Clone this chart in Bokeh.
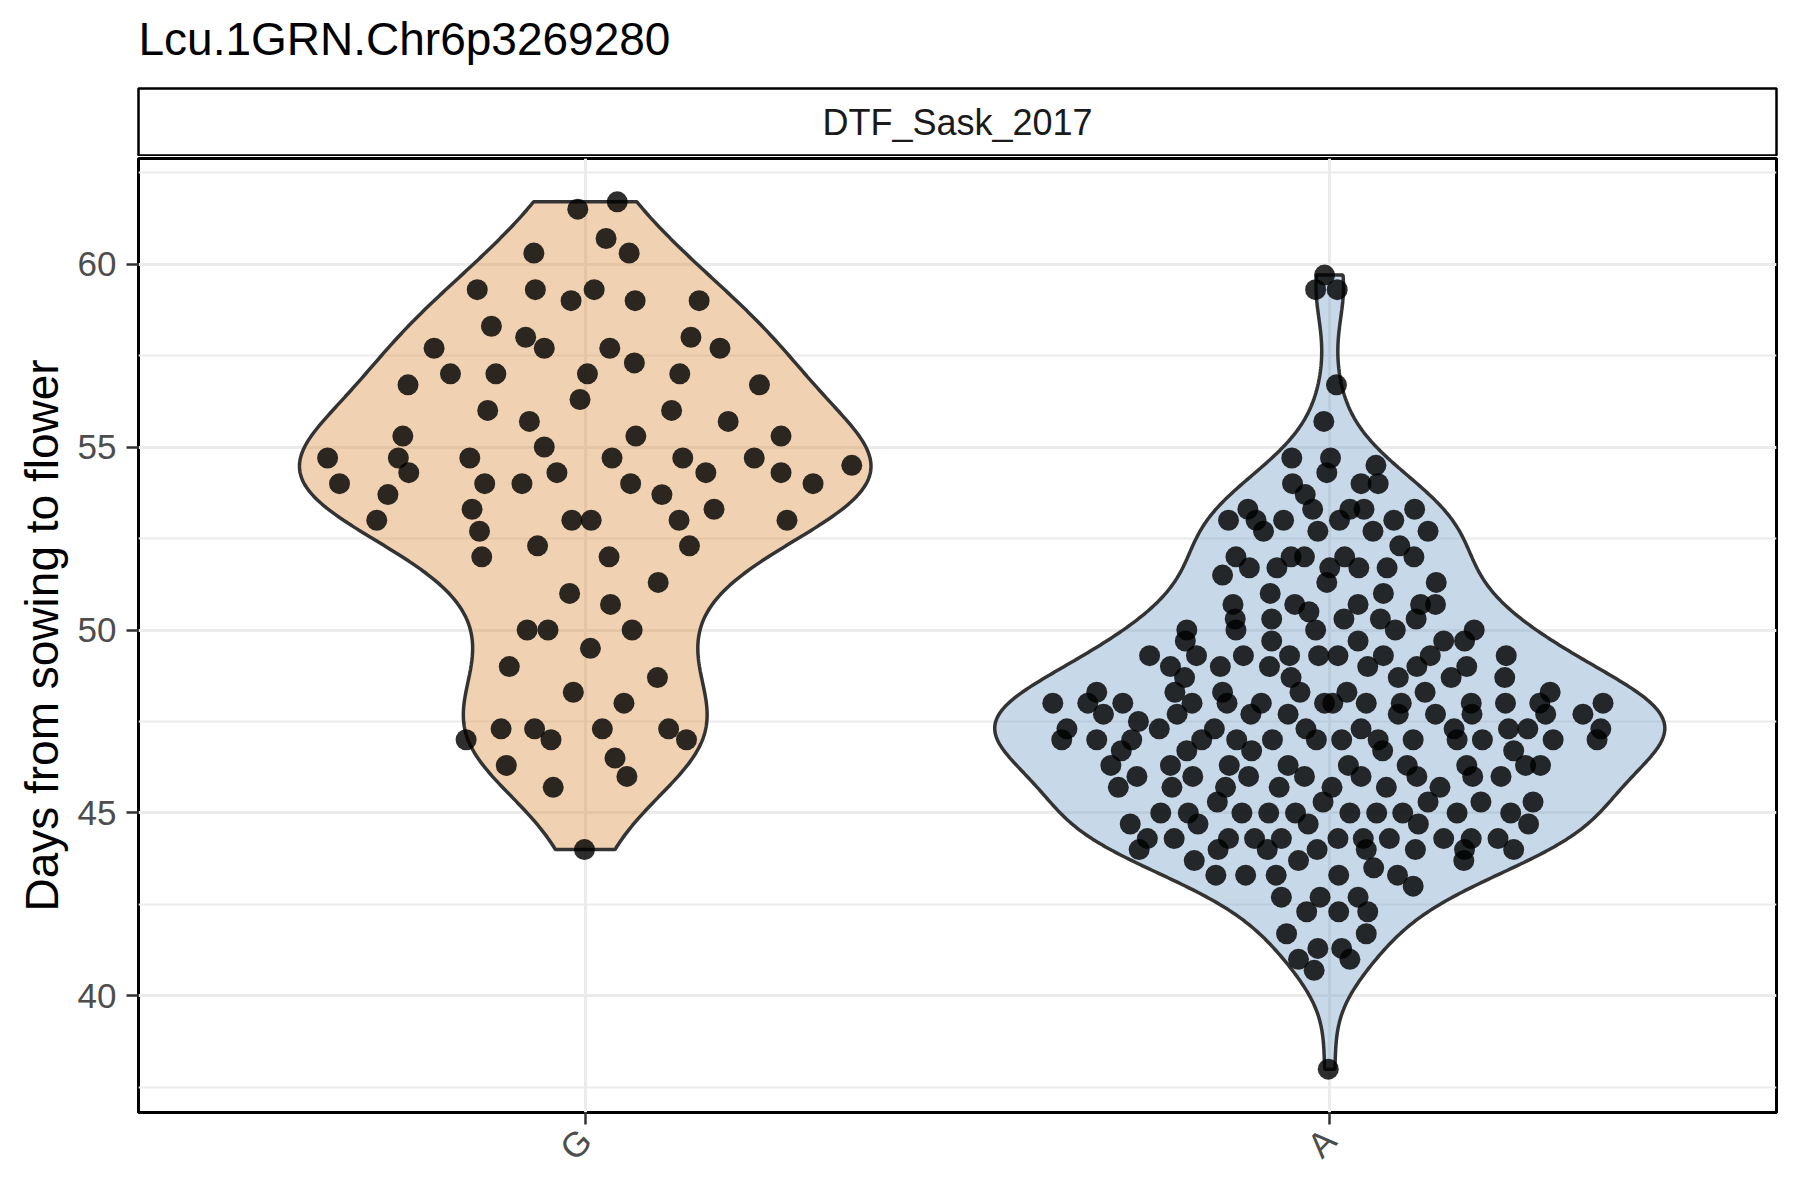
import numpy as np
from math import pi
from bokeh.plotting import figure
from bokeh.models import Range1d, FixedTicker, Label, Title
from bokeh.layouts import column
from bokeh.embed import file_html
from bokeh.resources import INLINE

# ---------------- data ----------------
title_text = "Lcu.1GRN.Chr6p3269280"
facet_label = "DTF_Sask_2017"
y_label = "Days from sowing to flower"
categories = ["G", "A"]
fill_colors = ["#DA8C3F", "#739EC6"]
y_ticks = [40, 45, 50, 55, 60]
y_minor_ticks = [37.5, 42.5, 47.5, 52.5, 57.5, 62.5]

g_vals = [61.5, 61.7, 60.7, 60.3, 60.3,
          59.3, 59.3, 59.3, 59.0, 59.0, 59.0,
          58.3, 58.0, 57.7, 57.7, 57.7, 57.3, 58.0, 57.7,
          56.7, 57.0, 57.0, 57.0, 56.3, 57.0, 56.7,
          56.0, 55.7, 56.0, 55.7,
          55.3, 55.3, 55.3, 55.0,
          54.7, 54.7, 54.7, 54.7, 54.7, 54.7, 54.5,
          54.3, 54.3, 54.3, 54.3,
          54.0, 54.0, 54.0, 54.0, 54.0,
          53.7, 53.7, 53.3, 53.3,
          53.0, 53.0, 53.0, 53.0, 53.0,
          52.7, 52.3, 52.3, 52.0, 52.0,
          51.3, 51.0, 50.7, 50.0, 50.0, 50.0,
          49.5, 49.0, 48.7, 48.3, 48.0,
          47.3, 47.3, 47.3, 47.3, 47.0, 47.0, 47.0,
          46.5, 46.3, 46.0, 45.7, 44.0]
g_jit = [-0.010, 0.043, 0.028, 0.059, -0.069,
         -0.145, -0.067, 0.012, -0.019, 0.067, 0.153,
         -0.126, -0.080, -0.055, -0.203, 0.033, 0.066, 0.142, 0.181,
         -0.238, -0.181, -0.120, 0.003, -0.007, 0.127, 0.234,
         -0.131, -0.075, 0.116, 0.192,
         -0.245, 0.068, 0.263, -0.055,
         -0.346, -0.251, -0.155, 0.036, 0.131, 0.227, 0.358,
         -0.237, -0.038, 0.162, 0.263,
         -0.330, -0.135, -0.085, 0.061, 0.306,
         -0.265, 0.103, -0.152, 0.173,
         -0.280, -0.018, 0.008, 0.126, 0.271,
         -0.142, -0.064, 0.140, -0.139, 0.032,
         0.098, -0.021, 0.034, -0.078, -0.050, 0.063,
         0.007, -0.102, 0.097, -0.016, 0.052,
         -0.113, -0.068, 0.023, 0.112, -0.160, -0.046, 0.136,
         0.040, -0.106, 0.056, -0.043, -0.001]

a_vals = [59.7, 59.3, 59.3, 56.7, 55.7,
          54.7, 54.7, 54.5, 54.3,
          54.0, 54.0, 54.0,
          53.7,
          53.3, 53.3, 53.3, 53.3, 53.3,
          53.0, 53.0, 53.0, 53.0, 53.0,
          52.7, 52.7, 52.7, 52.7,
          52.3,
          52.0, 52.0, 52.0, 52.0, 52.0,
          51.7, 51.7, 51.7, 51.7, 51.7,
          51.5,
          51.3, 51.3,
          51.0, 51.0,
          50.7, 50.7, 50.7, 50.7, 50.7,
          50.5,
          50.3, 50.3, 50.3, 50.3, 50.3,
          50.0, 50.0, 50.0, 50.0, 50.0,
          49.7, 49.7, 49.7, 49.7, 49.7,
          49.3, 49.3, 49.3, 49.3, 49.3, 49.3, 49.3, 49.3, 49.3,
          49.0, 49.0, 49.0, 49.0, 49.0, 49.0,
          48.7, 48.7, 48.7, 48.7, 48.7,
          48.3, 48.3, 48.3, 48.3, 48.3, 48.3, 48.3,
          48.0, 48.0, 48.0, 48.0, 48.0, 48.0, 48.0, 48.0, 48.0, 48.0, 48.0, 48.0, 48.0, 48.0,
          47.7, 47.7, 47.7, 47.7, 47.7, 47.7, 47.7, 47.7, 47.7,
          47.5,
          47.3, 47.3, 47.3, 47.3, 47.3, 47.3, 47.3, 47.3, 47.3,
          47.0, 47.0, 47.0, 47.0, 47.0, 47.0, 47.0, 47.0, 47.0, 47.0, 47.0, 47.0, 47.0, 47.0,
          46.7, 46.7, 46.7, 46.7, 46.7,
          46.3, 46.3, 46.3, 46.3, 46.3, 46.3, 46.3, 46.3, 46.3,
          46.0, 46.0, 46.0, 46.0, 46.0, 46.0, 46.0, 46.0,
          45.7, 45.7, 45.7, 45.7, 45.7, 45.7, 45.7,
          45.3, 45.3, 45.3, 45.3, 45.3,
          45.0, 45.0, 45.0, 45.0, 45.0, 45.0, 45.0, 45.0, 45.0, 45.0,
          44.7, 44.7, 44.7, 44.7, 44.7,
          44.3, 44.3, 44.3, 44.3, 44.3, 44.3, 44.3, 44.3, 44.3, 44.3, 44.3,
          44.0, 44.0, 44.0, 44.0, 44.0, 44.0, 44.0, 44.0,
          43.7, 43.7, 43.7,
          43.5,
          43.3, 43.3, 43.3, 43.3, 43.3,
          43.0,
          42.7, 42.7, 42.7,
          42.3, 42.3, 42.3,
          41.7, 41.7,
          41.3, 41.3,
          41.0, 41.0,
          40.7,
          38.0]
a_jit = [-0.007, -0.019, 0.010, 0.009, -0.008,
         -0.051, 0.001, 0.062, -0.004,
         -0.050, 0.042, 0.065,
         -0.033,
         -0.023, -0.110, 0.027, 0.046, 0.114,
         -0.136, -0.099, -0.062, 0.013, 0.086,
         -0.089, -0.016, 0.058, 0.132,
         0.094,
         -0.126, -0.052, -0.034, 0.020, 0.113,
         -0.108, -0.071, 0.000, 0.039, 0.077,
         -0.144,
         -0.004, 0.143,
         -0.080, 0.072,
         -0.130, -0.047, 0.038, 0.122, 0.142,
         -0.028,
         -0.127, -0.078, 0.019, 0.068, 0.116,
         -0.192, -0.126, -0.019, 0.088, 0.194,
         -0.194, -0.078, 0.038, 0.153, 0.181,
         -0.242, -0.179, -0.116, -0.054, -0.015, 0.011, 0.072, 0.135, 0.237,
         -0.214, -0.147, -0.081, 0.051, 0.117, 0.184,
         -0.195, -0.052, 0.092, 0.163, 0.235,
         -0.313, -0.208, -0.144, -0.040, 0.023, 0.128, 0.296,
         -0.372, -0.325, -0.278, -0.185, -0.138, -0.092, -0.007, 0.004, 0.049, 0.096, 0.190, 0.236, 0.282, 0.367,
         -0.304, -0.205, -0.106, -0.056, 0.092, 0.142, 0.191, 0.290, 0.340,
         -0.257,
         -0.353, -0.229, -0.155, -0.032, 0.042, 0.167, 0.240, 0.266, 0.364,
         -0.360, -0.313, -0.266, -0.172, -0.125, -0.077, -0.018, 0.016, 0.065, 0.112, 0.171, 0.205, 0.300, 0.359,
         -0.280, -0.192, -0.105, 0.071, 0.247,
         -0.294, -0.214, -0.135, -0.056, 0.025, 0.104, 0.184, 0.263, 0.283,
         -0.259, -0.184, -0.109, -0.034, 0.042, 0.117, 0.192, 0.230,
         -0.284, -0.212, -0.140, -0.068, 0.003, 0.076, 0.148,
         -0.151, -0.009, 0.132, 0.203, 0.273,
         -0.227, -0.190, -0.118, -0.082, -0.046, 0.027, 0.063, 0.098, 0.171, 0.243,
         -0.268, -0.177, -0.029, 0.119, 0.267,
         -0.245, -0.209, -0.136, -0.101, -0.065, 0.011, 0.045, 0.080, 0.153, 0.190, 0.226,
         -0.256, -0.150, -0.084, -0.017, 0.049, 0.115, 0.181, 0.247,
         -0.182, -0.042, 0.180,
         0.059,
         -0.153, -0.113, -0.072, 0.012, 0.091,
         0.112,
         -0.065, -0.013, 0.038,
         -0.031, 0.012, 0.051,
         -0.058, 0.049,
         -0.016, 0.016,
         -0.042, 0.027,
         -0.021,
         -0.002]

group_vals = [g_vals, a_vals]
group_jit = [g_jit, a_jit]
assert len(g_vals) == len(g_jit) and len(a_vals) == len(a_jit)

FONT = "Liberation Sans"


def kde_trim(vals, n_grid=512):
    v = np.asarray(vals, dtype=float)
    n = len(v)
    sd = v.std(ddof=1)
    q75, q25 = np.percentile(v, [75, 25])
    bw = 0.9 * min(sd, (q75 - q25) / 1.34) * n ** -0.2
    grid = np.linspace(v.min(), v.max(), n_grid)
    dens = np.exp(-0.5 * ((grid[:, None] - v[None, :]) / bw) ** 2).sum(1) / (n * bw * np.sqrt(2 * np.pi))
    return grid, dens


kdes = [kde_trim(v) for v in group_vals]
dmax = max(d.max() for _, d in kdes)

all_vals = np.concatenate([np.asarray(v) for v in group_vals])
span = all_vals.max() - all_vals.min()
y_lo = all_vals.min() - 0.05 * span
y_hi = all_vals.max() + 0.05 * span

# ---------------- strip (facet label) + title ----------------
W = 1784
MB_LEFT = 138
MB_RIGHT = 8

s = figure(width=W, height=156, x_range=Range1d(0, 1), y_range=Range1d(0, 1),
           toolbar_location=None, output_backend="svg",
           x_axis_location=None, y_axis_location=None,
           min_border_left=MB_LEFT, min_border_right=MB_RIGHT,
           min_border_top=88, min_border_bottom=1)
s.grid.visible = False
s.outline_line_color = "black"
s.outline_line_width = 2.5
s.background_fill_color = "white"
s.border_fill_color = "white"
s.title.text = title_text
s.title.text_font = FONT
s.title.text_font_size = "46px"
s.title.text_font_style = "normal"
s.title.text_color = "black"
s.title.align = "left"
s.title.standoff = 0
# empty spacer between the title and the strip box
s.add_layout(Title(text=" ", text_font_size="20px", standoff=0), "above")
s.add_layout(Label(x=0.5, y=0.5, text=facet_label, text_align="center",
                   text_baseline="middle", text_font=FONT,
                   text_font_size="36px", text_color="#1A1A1A"))

# ---------------- main panel ----------------
p = figure(width=W, height=1028, x_range=Range1d(0.4, len(categories) + 0.6),
           y_range=Range1d(y_lo, y_hi),
           toolbar_location=None, output_backend="svg",
           min_border_left=MB_LEFT, min_border_right=MB_RIGHT,
           min_border_top=2, min_border_bottom=72)
p.background_fill_color = "white"
p.border_fill_color = "white"
p.outline_line_color = "black"
p.outline_line_width = 3

for i, cat in enumerate(categories):
    xc = i + 1
    grid, dens = kdes[i]
    hw = 0.45 * dens / dmax
    xs = np.concatenate([xc - hw, (xc + hw)[::-1]])
    ys = np.concatenate([grid, grid[::-1]])
    p.patch(xs, ys, fill_color=fill_colors[i], fill_alpha=0.4,
            line_color="#333333", line_width=3.5)

for i, cat in enumerate(categories):
    xc = i + 1
    px = xc + np.asarray(group_jit[i])
    py = np.asarray(group_vals[i])
    p.scatter(px, py, size=21, fill_color="black", fill_alpha=0.82, line_color=None)

# axes
p.xaxis.ticker = FixedTicker(ticks=[i + 1 for i in range(len(categories))])
p.xaxis.major_label_overrides = {i + 1: c for i, c in enumerate(categories)}
p.xaxis.major_label_orientation = pi / 4
p.yaxis.ticker = FixedTicker(ticks=y_ticks, minor_ticks=y_minor_ticks)
p.yaxis.axis_label = y_label

for ax in (p.xaxis, p.yaxis):
    ax.axis_line_color = None
    ax.major_tick_line_color = "#333333"
    ax.major_tick_line_width = 2.5
    ax.major_tick_out = 12
    ax.major_tick_in = 0
    ax.minor_tick_line_color = None
    ax.major_label_text_font = FONT
    ax.major_label_text_font_size = "35px"
    ax.major_label_text_color = "#4D4D4D"
    ax.major_label_standoff = 10
    ax.axis_label_text_font = FONT
    ax.axis_label_text_font_size = "46px"
    ax.axis_label_text_font_style = "normal"
    ax.axis_label_text_color = "black"
    ax.axis_label_standoff = 7

p.xgrid.grid_line_color = "#EBEBEB"
p.xgrid.grid_line_width = 3
p.ygrid.grid_line_color = "#EBEBEB"
p.ygrid.grid_line_width = 3
p.ygrid.minor_grid_line_color = "#EBEBEB"
p.ygrid.minor_grid_line_width = 1.8

layout = column(s, p, spacing=0)
open("out.html", "w").write(file_html(layout, INLINE))
